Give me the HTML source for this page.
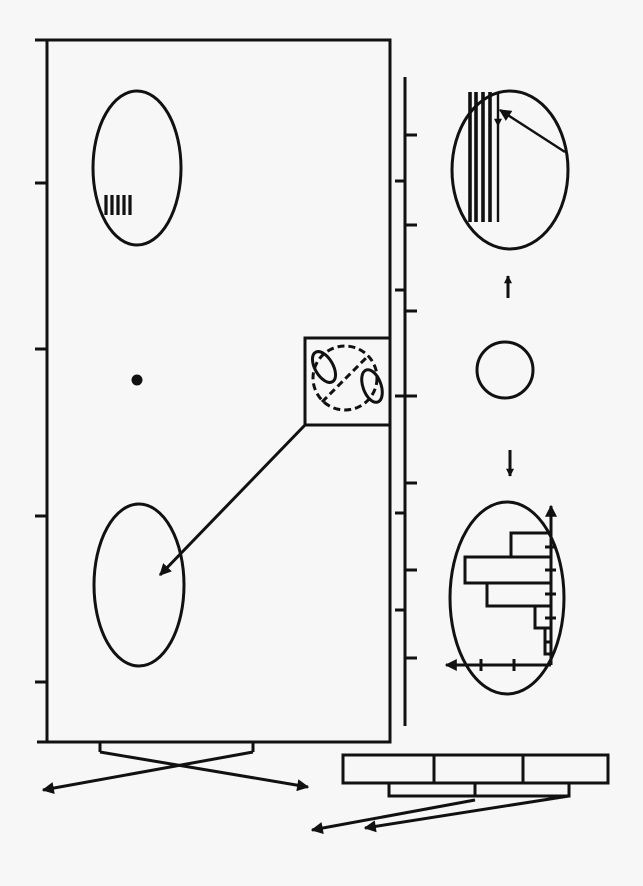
<!DOCTYPE html>
<html><head><meta charset="utf-8"><style>html,body{margin:0;padding:0;background:#f7f7f7}svg{display:block}</style></head>
<body>
<svg width="643" height="886" viewBox="0 0 643 886" xmlns="http://www.w3.org/2000/svg">
<defs>
<marker id="a" viewBox="0 0 10 10" refX="9" refY="5" markerWidth="11" markerHeight="8" orient="auto" markerUnits="userSpaceOnUse" ><path d="M0,0 L10,5 L0,10 z" fill="#111"/></marker>
<marker id="b" viewBox="0 0 10 10" refX="9" refY="5" markerWidth="22" markerHeight="12" orient="auto" markerUnits="userSpaceOnUse"><path d="M0,0 L10,5 L0,10 z" fill="#111"/></marker>
</defs>
<g stroke="#111" stroke-width="3" fill="none">
<rect x="47" y="40" width="343" height="702"/>
<line x1="35" y1="40" x2="47" y2="40"/>
<line x1="37" y1="742" x2="47" y2="742"/>
<line x1="35" y1="183" x2="47" y2="183"/>
<line x1="35" y1="349" x2="47" y2="349"/>
<line x1="35" y1="516" x2="47" y2="516"/>
<line x1="35" y1="682" x2="47" y2="682"/>
<ellipse cx="137" cy="168" rx="44" ry="77"/>
<ellipse cx="139" cy="585" rx="45" ry="81"/>
<g stroke-width="3.2"><line x1="106" y1="195" x2="106" y2="215"/><line x1="112" y1="195" x2="112" y2="215"/><line x1="118" y1="195" x2="118" y2="215"/><line x1="124" y1="195" x2="124" y2="215"/><line x1="130" y1="195" x2="130" y2="215"/></g>
<rect x="305" y="338" width="85" height="87"/>
<circle cx="345" cy="378" r="32" stroke-dasharray="7,4"/>
<line x1="322" y1="402" x2="366" y2="358" stroke-dasharray="7,4"/>
<ellipse cx="324" cy="367" rx="9" ry="17" transform="rotate(-30 324 367)"/>
<ellipse cx="372" cy="386" rx="9" ry="17" transform="rotate(-20 372 386)"/>
<line x1="305" y1="425" x2="160" y2="575" marker-end="url(#b)"/>
<line x1="405" y1="77" x2="405" y2="726"/>
<g><line x1="405" y1="135" x2="417" y2="135"/><line x1="405" y1="225" x2="417" y2="225"/><line x1="405" y1="311" x2="417" y2="311"/><line x1="395" y1="396" x2="417" y2="396"/><line x1="405" y1="483" x2="417" y2="483"/><line x1="405" y1="570" x2="417" y2="570"/><line x1="405" y1="658" x2="417" y2="658"/>
<line x1="395" y1="181" x2="405" y2="181"/><line x1="395" y1="290" x2="405" y2="290"/><line x1="395" y1="513" x2="405" y2="513"/><line x1="395" y1="610" x2="405" y2="610"/></g>
<ellipse cx="510" cy="170" rx="58" ry="79"/>
<g stroke-width="3.6"><line x1="470" y1="92" x2="470" y2="222"/><line x1="476" y1="92" x2="476" y2="222"/><line x1="483" y1="92" x2="483" y2="222"/><line x1="490" y1="92" x2="490" y2="222"/></g>
<line x1="498" y1="92" x2="498" y2="222" stroke-width="2.4"/>
<line x1="498" y1="96" x2="498" y2="126" stroke-width="1.5" marker-end="url(#a)"/>
<line x1="565" y1="152" x2="500" y2="110" stroke-width="2.4" marker-end="url(#b)"/>
<line x1="508" y1="298" x2="508" y2="276" marker-end="url(#a)"/>
<circle cx="505" cy="370" r="28"/>
<line x1="510" y1="450" x2="510" y2="476" marker-end="url(#a)"/>
<ellipse cx="507" cy="598" rx="57" ry="96"/>
<line x1="551" y1="665" x2="551" y2="506" marker-end="url(#b)"/>
<line x1="551" y1="665" x2="446" y2="665" marker-end="url(#b)"/>
<rect x="511" y="533" width="40" height="24"/>
<rect x="465" y="557" width="86" height="26"/>
<rect x="487" y="583" width="64" height="23"/>
<rect x="535" y="606" width="16" height="22"/>
<rect x="545" y="628" width="6" height="14"/>
<rect x="545" y="642" width="6" height="12"/>
<g><line x1="545" y1="547" x2="556" y2="547"/><line x1="545" y1="570" x2="556" y2="570"/><line x1="545" y1="594" x2="556" y2="594"/><line x1="545" y1="618" x2="556" y2="618"/><line x1="481" y1="659" x2="481" y2="671"/><line x1="514" y1="659" x2="514" y2="671"/></g>
<path d="M100,742 V752"/>
<path d="M253,742 V752"/>
<line x1="100" y1="752" x2="308" y2="787" marker-end="url(#b)"/>
<line x1="253" y1="752" x2="43" y2="790" marker-end="url(#b)"/>
<rect x="343" y="755" width="265" height="28"/>
<line x1="434" y1="755" x2="434" y2="783"/>
<line x1="523" y1="755" x2="523" y2="783"/>
<path d="M389,783 V796 H569 V783"/>
<line x1="475" y1="783" x2="475" y2="796"/>
<line x1="475" y1="800" x2="312" y2="830" marker-end="url(#b)"/>
<line x1="569" y1="796" x2="365" y2="828" marker-end="url(#b)"/>
</g>
<circle cx="137" cy="380" r="5.5" fill="#111"/>
</svg>
</body></html>
